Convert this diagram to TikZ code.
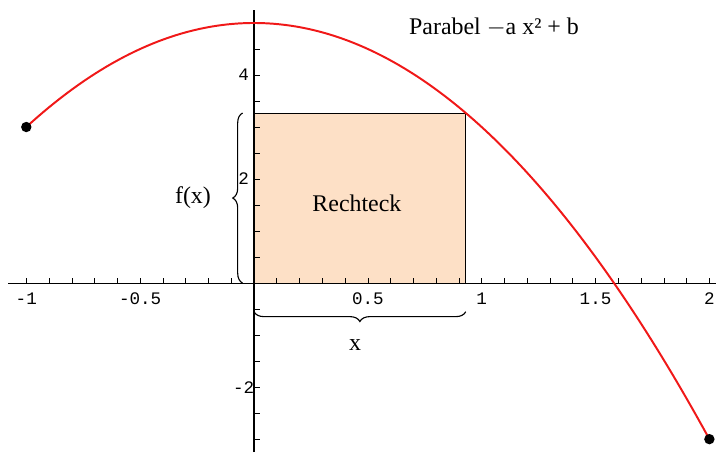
\documentclass[tikz,border=0pt]{standalone}
\usepackage{fontspec}
\setmainfont{Liberation Serif}
\setmonofont{Liberation Mono}
\usetikzlibrary{decorations.pathreplacing,calc}
\definecolor{parabRed}{HTML}{F01818}
\definecolor{rectFill}{HTML}{FDE0C6}

\begin{document}
\begin{tikzpicture}[x=5.69cm,y=1.3cm,font=\fontsize{17}{19}\selectfont]
    \tikzset{ticklab/.style={font=\ttfamily\fontsize{12.5}{13}\selectfont,inner sep=1pt},
      brc/.style={decorate,decoration={brace,amplitude=7pt},thick},
      enddot/.style={circle,fill=black,inner sep=0pt,minimum size=0.26cm}}
    \useasboundingbox (-1.1155,-3.25) rectangle (2.0466,5.442);
    \fill[rectFill] (0,0) rectangle (0.93,3.27);
    \draw[thin] (0,3.27) -- (0.93,3.27) -- (0.93,0);
    \draw[thick] (-1.08,0) -- (2.03,0);
    \draw[thick] (0,-3.25) -- (0,5.25);
    \foreach \i in {-10,...,20} \draw (\i/10,0) -- ++(0,0.1);
    \foreach \i in {-6,...,10} \draw (0,\i/2) -- ++(0.025,0);
    \foreach \v in {-1,-0.5,0.5,1,1.5,2} \node[ticklab] (xl\v) at (\v,-0.3) {\v};
    \foreach \v in {-2,2,4} \node[ticklab] (yl\v) at (-0.045,\v) {\v};
    \draw[parabRed,line width=1.4pt,domain=-1:2,samples=120] plot (\x,{5-2*\x*\x});
    \node[enddot] (p1) at (-1,3) {};
    \node[enddot] (p2) at (2,-3) {};
    \coordinate (lb) at (-0.05,0);
    \coordinate (lt) at (-0.05,3.27);
    \coordinate (bl) at (0,-0.55);
    \coordinate (br) at (0.93,-0.55);
    \draw[brc] (lb) -- (lt);
    \draw[brc,decoration={mirror}] (bl) -- (br);
    \node (fx) at (-0.268,1.65) {f(x)};
    \node (xx) at (0.444,-1.19) {x};
    \node (r) at (0.452,1.54) {Rechteck};
    \node (t) at (1.054,4.92) {Parabel $-$a x² + b};
\end{tikzpicture}
\end{document}
